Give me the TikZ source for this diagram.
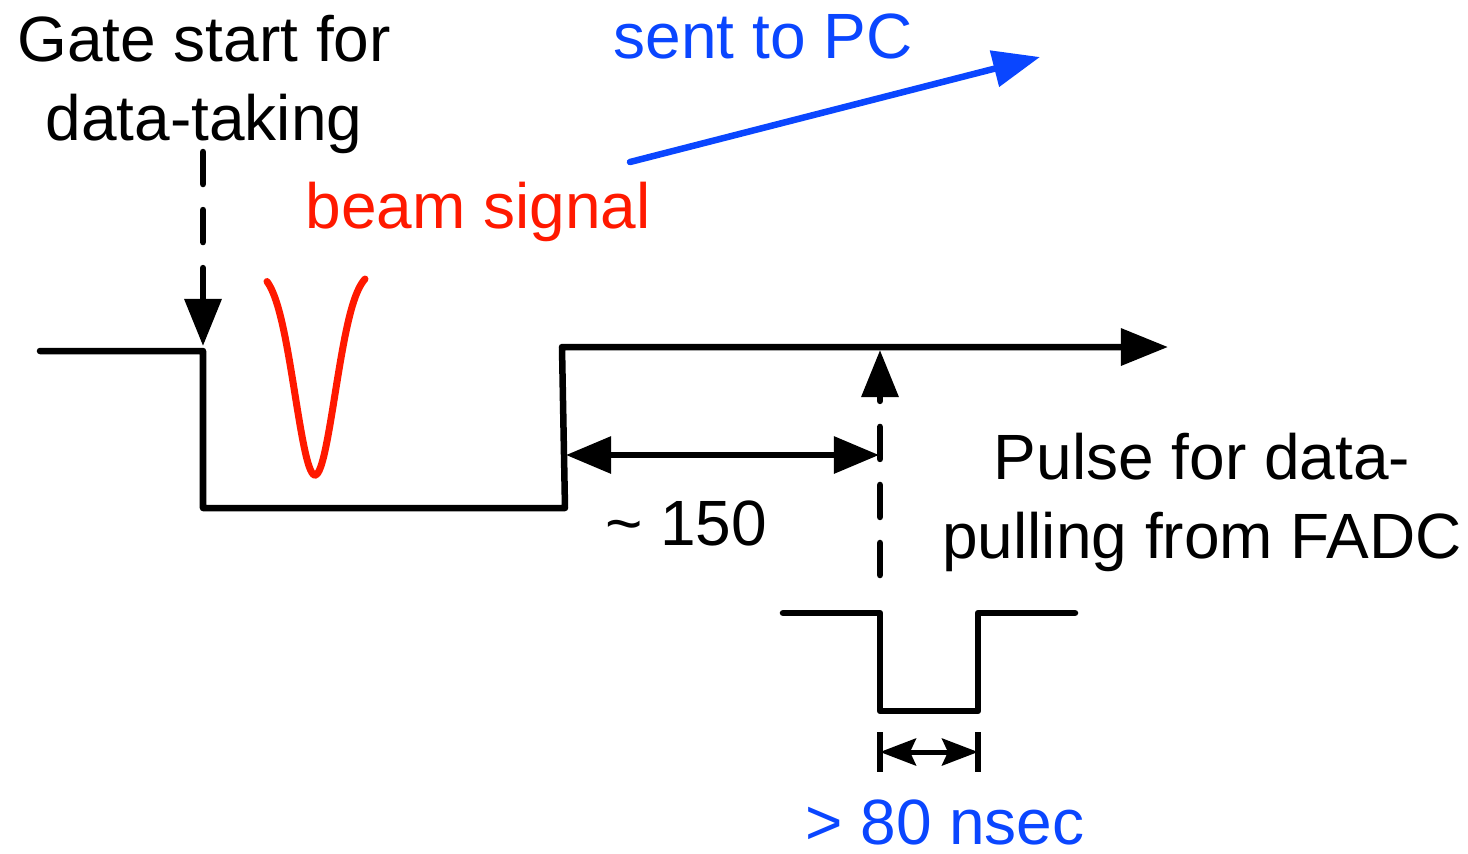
\documentclass[tikz,border=0pt]{standalone}
\usepackage{fontspec}
\setmainfont{Liberation Sans}
\usetikzlibrary{arrows.meta}
\definecolor{myblue}{RGB}{10,70,255}
\definecolor{myred}{RGB}{255,25,0}
\begin{document}
\begin{tikzpicture}[x=0.01cm,y=-0.01cm,
  wave/.style={line width=0.065cm, line join=round, line cap=round},
  lbl/.style={font=\fontsize{18.2}{22.2}\selectfont, inner sep=0pt, align=center, anchor=base},
  dsh/.style={line width=0.065cm, dash pattern=on 0.32cm off 0.26cm, line cap=round},
  bigtip/.style={-{Triangle[length=0.47cm,width=0.36cm]}},
  dimtip/.style={{Triangle[length=0.45cm,width=0.36cm]}-{Triangle[length=0.45cm,width=0.36cm]}},
  smalltip/.style={{Stealth[length=0.36cm,width=0.27cm,inset=0.06cm]}-{Stealth[length=0.36cm,width=0.27cm,inset=0.06cm]}}
]
\useasboundingbox (0,0) rectangle (1468,853);

% main gate waveform
\coordinate (s0) at (40,351);
\coordinate (s1) at (203,351);
\coordinate (s2) at (203,508);
\coordinate (s3) at (565,508);
\coordinate (s4) at (562,347);
\coordinate (s5) at (1168,347);
\draw[wave, bigtip] (s0) -- (s1) -- (s2) -- (s3) -- (s4) -- (s5);

% gate start dashed arrow
\coordinate (g0) at (203,152);
\coordinate (g1) at (203,346);
\draw[dsh, bigtip] (g0) -- (g1);

% beam signal dip
\draw[myred, line width=0.07cm, line cap=round]
  plot[domain=-48:50, samples=80, smooth] ({315+\x},{270+205*exp(-(\x*\x)/800)});

% sent to PC arrow
\coordinate (b0) at (630,162);
\coordinate (b1) at (1040,57);
\draw[myblue, line width=0.065cm, line cap=round, bigtip] (b0) -- (b1);

% upward dashed arrow
\coordinate (p0) at (880,575);
\coordinate (p1) at (880,350);
\draw[dsh, bigtip] (p0) -- (p1);

% ~150 dimension
\coordinate (d0) at (566,455);
\coordinate (d1) at (879,455);
\draw[line width=0.06cm, dimtip] (d0) -- (d1);

% lower pulse
\coordinate (q0) at (783,613);
\coordinate (q1) at (880,613);
\coordinate (q2) at (880,711);
\coordinate (q3) at (978,711);
\coordinate (q4) at (978,613);
\coordinate (q5) at (1075,613);
\draw[wave] (q0) -- (q1) -- (q2) -- (q3) -- (q4) -- (q5);

% >80 nsec dimension
\coordinate (t0a) at (880,732);
\coordinate (t0b) at (880,772);
\coordinate (t1a) at (978,732);
\coordinate (t1b) at (978,772);
\draw[line width=0.065cm] (t0a) -- (t0b);
\draw[line width=0.065cm] (t1a) -- (t1b);
\coordinate (m0) at (880,752);
\coordinate (m1) at (978,752);
\draw[line width=0.05cm, smalltip] (m0) -- (m1);

% labels
\node[lbl] (gate) at (204,140) {Gate start for\\data-taking};
\node[lbl, text=myblue] (pc) at (763,58) {sent to PC};
\node[lbl, text=myred] (beam) at (478,228) {beam signal};
\node[lbl] (t150) at (686,545) {\textasciitilde{} 150};
\node[lbl] (pulse) at (1202,558) {Pulse for data-\\pulling from FADC};
\node[lbl, text=myblue] (ns) at (945,844) {> 80 nsec};
\end{tikzpicture}
\end{document}
